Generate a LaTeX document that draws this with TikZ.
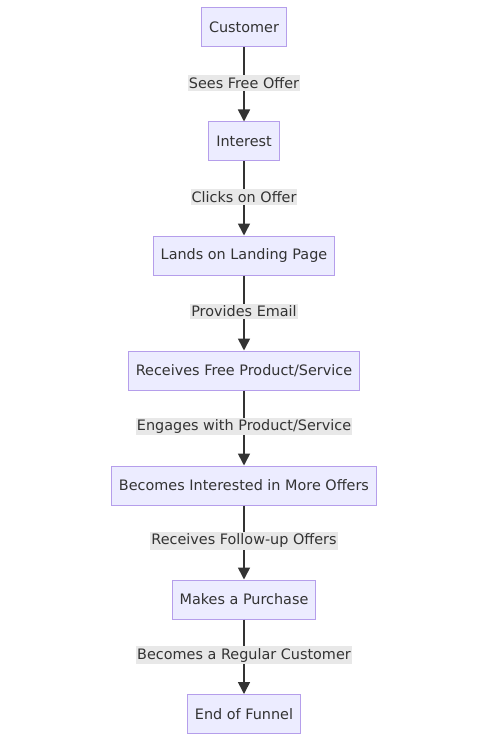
\documentclass[tikz,border=0pt]{standalone}
\usepackage{fontspec}
\setmainfont{DejaVu Sans}
\usetikzlibrary{arrows.meta}
\definecolor{boxfill}{HTML}{ECECFF}
\definecolor{boxline}{HTML}{B59EEB}
\definecolor{ink}{HTML}{333333}
\definecolor{lblfill}{HTML}{E8E8E8}
\tikzset{
  stage/.style={draw=boxline, fill=boxfill, line width=1pt, text=ink,
    minimum height=39pt, inner xsep=7.5pt, font=\fontsize{14.4}{16}\selectfont},
  lbl/.style={fill=lblfill, text=ink, inner xsep=1pt, inner ysep=2pt,
    font=\fontsize{14.4}{16}\selectfont},
  flow/.style={draw=ink, line width=1.6pt, -{Triangle[length=12pt,width=12pt]}}
}
\begin{document}
\begin{tikzpicture}[x=1pt,y=1pt]
      \useasboundingbox (0,0) rectangle (500,-743);
      \draw
        (244,-27.5) node[stage] (customer){Customer}
        (244,-141.5) node[stage] (interest){Interest}
        (244,-255.5) node[stage] (landing){Lands on Landing Page}
        (244,-370.5) node[stage] (freeprod){Receives Free Product/Service}
        (244,-485.5) node[stage] (moreoffers){Becomes Interested in More Offers}
        (244,-599.5) node[stage] (purchase){Makes a Purchase}
        (244,-714) node[stage] (funnelend){End of Funnel};
      \begin{scope}[flow]
        \draw (customer) to node[lbl, yshift=1.5pt]{Sees Free Offer} (interest);
        \draw (interest) to node[lbl, yshift=1.5pt]{Clicks on Offer} (landing);
        \draw (landing) to node[lbl, yshift=1.5pt]{Provides Email} (freeprod);
        \draw (freeprod) to node[lbl, yshift=1.5pt]{Engages with Product/Service} (moreoffers);
        \draw (moreoffers) to node[lbl, yshift=1.5pt]{Receives Follow-up Offers} (purchase);
        \draw (purchase) to node[lbl, yshift=1.5pt]{Becomes a Regular Customer} (funnelend);
      \end{scope}
    \end{tikzpicture}
\end{document}
